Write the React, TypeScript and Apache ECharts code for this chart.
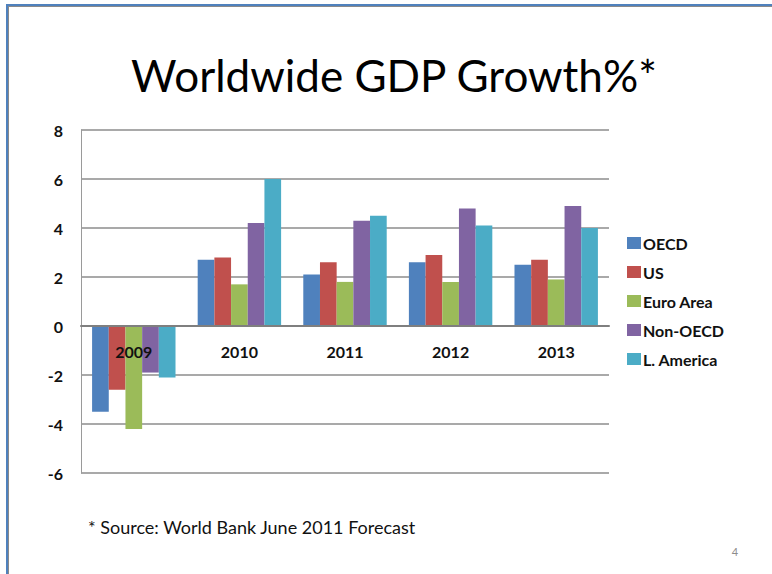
import React, { useEffect, useRef } from "react";
import * as echarts from "echarts";

const categories = ["2009", "2010", "2011", "2012", "2013"];
const seriesNames = ["OECD", "US", "Euro Area", "Non-OECD", "L. America"];
const oecd = [-3.5, 2.7, 2.1, 2.6, 2.5];
const us = [-2.6, 2.8, 2.6, 2.9, 2.7];
const euroArea = [-4.2, 1.7, 1.8, 1.8, 1.9];
const nonOecd = [-1.9, 4.2, 4.3, 4.8, 4.9];
const lAmerica = [-2.1, 6.0, 4.5, 4.1, 4.0];
const colors = ["#4F81BD", "#C0504D", "#9BBB59", "#8064A2", "#4BACC6"];
const titleText = "Worldwide GDP Growth%*";
const footnote = "* Source: World Bank June 2011 Forecast";
const pageNumber = "4";

const Y_MIN = -6;
const Y_MAX = 8;
const GRID_TOP = 130;
const GRID_BOTTOM = 101;
const CHART_H = 574;

export default function App() {
  const ref = useRef<HTMLDivElement>(null);
  useEffect(() => {
    if (!ref.current) return;
    const chart = echarts.init(ref.current, null, { renderer: "svg" });
    const values = [oecd, us, euroArea, nonOecd, lAmerica];
    const font = "Lato, 'Noto Sans', sans-serif";
    const plotH = CHART_H - GRID_TOP - GRID_BOTTOM;
    // move category axis up to value 0
    const zeroOffset = -Math.round((plotH * (0 - Y_MIN)) / (Y_MAX - Y_MIN));
    chart.setOption({
      animation: false,
      backgroundColor: "#ffffff",
      textStyle: { fontFamily: font },
      grid: { left: 81, right: 163, top: GRID_TOP, bottom: GRID_BOTTOM, containLabel: false },
      legend: {
        orient: "vertical",
        left: 627,
        top: 235,
        padding: 0,
        itemWidth: 14,
        itemHeight: 12,
        itemGap: 13,
        icon: "rect",
        textStyle: { fontFamily: font, fontSize: 16, fontWeight: "bold", color: "#111", padding: [0, 0, 0, -3] },
        data: seriesNames,
      },
      xAxis: {
        type: "category",
        data: categories,
        z: 10,
        offset: zeroOffset,
        axisLine: { onZero: false, lineStyle: { color: "#7f7f7f", width: 2 } },
        axisTick: { show: false },
        axisLabel: { fontFamily: font, fontSize: 16, fontWeight: "bold", color: "#111", margin: 17 },
      },
      yAxis: {
        type: "value",
        min: Y_MIN,
        max: Y_MAX,
        interval: 2,
        axisLine: { show: true, lineStyle: { color: "#9a9a9a", width: 1 } },
        axisTick: { show: false },
        splitLine: { lineStyle: { color: "#8c8c8c", width: 1.5 } },
        axisLabel: { fontFamily: font, fontSize: 16, fontWeight: "bold", color: "#111", margin: 18 },
      },
      series: seriesNames.map((name, i) => ({
        name,
        type: "bar",
        data: values[i],
        itemStyle: { color: colors[i] },
        barGap: "0%",
        barCategoryGap: "21%",
      })),
      graphic: [
        { type: "line", shape: { x1: 6, y1: 5, x2: 772, y2: 5 }, style: { stroke: "#4F81BD", lineWidth: 2 } },
        { type: "line", shape: { x1: 8, y1: 6.5, x2: 772, y2: 6.5 }, style: { stroke: "#8a8a8a", lineWidth: 1 } },
        { type: "line", shape: { x1: 7, y1: 4, x2: 7, y2: 574 }, style: { stroke: "#4F81BD", lineWidth: 2 } },
        { type: "line", shape: { x1: 8.5, y1: 6, x2: 8.5, y2: 574 }, style: { stroke: "#8a8a8a", lineWidth: 1 } },
        {
          type: "text",
          x: 394,
          y: 75,
          style: { text: titleText, fontFamily: font, fontSize: 44, fill: "#000", textAlign: "center", textVerticalAlign: "middle" },
        },
        {
          type: "text",
          x: 88,
          y: 527,
          style: { text: footnote, fontFamily: font, fontSize: 18, fill: "#111", textAlign: "left", textVerticalAlign: "middle" },
        },
        {
          type: "text",
          x: 735,
          y: 551,
          style: { text: pageNumber, fontFamily: font, fontSize: 11, fill: "#8c8c8c", textAlign: "center", textVerticalAlign: "middle" },
        },
      ],
    });
    return () => chart.dispose();
  }, []);
  return <div ref={ref} style={{ position: "absolute", left: 0, top: 0, width: 772, height: 574 }} />;
}
